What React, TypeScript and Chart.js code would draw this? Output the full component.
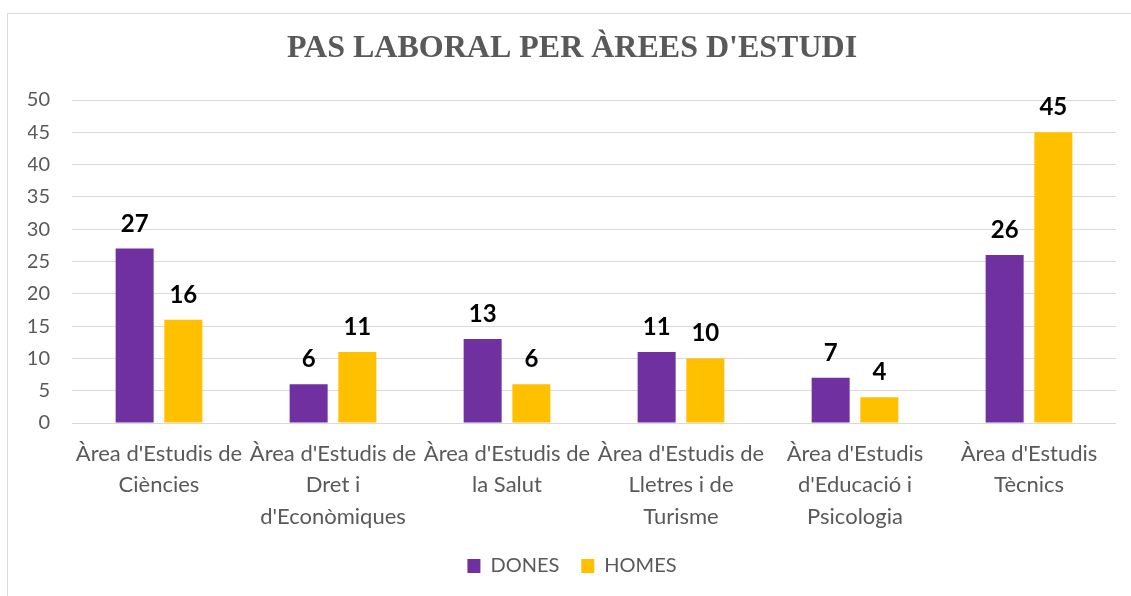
import React, { useEffect, useRef } from "react";
import { Chart, registerables } from "chart.js";

Chart.register(...registerables);

const TITLE = "PAS LABORAL PER ÀREES D'ESTUDI";
const CATEGORIES: string[][] = [
  ["Àrea d'Estudis de", "Ciències"],
  ["Àrea d'Estudis de", "Dret i", "d'Econòmiques"],
  ["Àrea d'Estudis de", "la Salut"],
  ["Àrea d'Estudis de", "Lletres i de", "Turisme"],
  ["Àrea d'Estudis", "d'Educació i", "Psicologia"],
  ["Àrea d'Estudis", "Tècnics"],
];
const SERIES_NAMES = ["DONES", "HOMES"];
const DONES = [27, 6, 13, 11, 7, 26];
const HOMES = [16, 11, 6, 10, 4, 45];
const Y_MIN = 0;
const Y_MAX = 50;
const Y_STEP = 5;

const FONT = "Lato, 'Open Sans', sans-serif";
const GREY = "#595959";

const framePlugin = {
  id: "frame",
  beforeDraw(chart: any) {
    const ctx = chart.ctx;
    ctx.save();
    ctx.fillStyle = "#ffffff";
    ctx.fillRect(0, 0, chart.width, chart.height);
    ctx.strokeStyle = "#d9d9d9";
    ctx.lineWidth = 1;
    ctx.strokeRect(7.5, 13.5, chart.width + 50, chart.height + 50);
    ctx.restore();
  },
};

const labelPlugin = {
  id: "valueLabels",
  afterDatasetsDraw(chart: any) {
    const ctx = chart.ctx;
    ctx.save();
    ctx.font = `bold 24px ${FONT}`;
    ctx.fillStyle = "#000000";
    ctx.textAlign = "center";
    ctx.textBaseline = "alphabetic";
    chart.data.datasets.forEach((ds: any, i: number) => {
      const meta = chart.getDatasetMeta(i);
      meta.data.forEach((bar: any, j: number) => {
        ctx.fillText(String(ds.data[j]), bar.x, bar.y - 17);
      });
    });
    ctx.restore();
  },
};

export default function App() {
  const ref = useRef<HTMLCanvasElement>(null);
  useEffect(() => {
    const chart = new Chart(ref.current!, {
      type: "bar",
      data: {
        labels: CATEGORIES,
        datasets: [
          { label: SERIES_NAMES[0], data: DONES, backgroundColor: "#7030A0" },
          { label: SERIES_NAMES[1], data: HOMES, backgroundColor: "#FFC000" },
        ],
      },
      options: {
        animation: false,
        responsive: false,
        maintainAspectRatio: false,
        layout: { padding: { left: 28, right: 15, top: 0, bottom: 10 } },
        datasets: {
          bar: { categoryPercentage: 0.56, barPercentage: 0.78 },
        },
        plugins: {
          title: {
            display: true,
            text: TITLE,
            color: GREY,
            font: { family: "'Liberation Serif', 'Times New Roman', serif", size: 32, weight: "bold" },
            padding: { top: 30, bottom: 31.6 },
          },
          legend: {
            position: "bottom",
            labels: {
              color: GREY,
              font: { family: FONT, size: 20 },
              boxWidth: 13,
              boxHeight: 14,
              padding: 22,
            },
          },
          tooltip: { enabled: false },
        },
        scales: {
          x: {
            grid: { display: false },
            border: { display: false },
            ticks: {
              color: GREY,
              font: { family: FONT, size: 22, lineHeight: 1.43 },
              maxRotation: 0,
              autoSkip: false,
              padding: 7,
            },
            afterFit(scale: any) {
              scale.height = 111;
            },
          },
          y: {
            min: Y_MIN,
            max: Y_MAX,
            ticks: {
              stepSize: Y_STEP,
              color: GREY,
              font: { family: FONT, size: 20 },
              padding: 22,
            },
            grid: { color: "#d9d9d9", drawTicks: false, lineWidth: 1 },
            border: { display: false },
            afterFit(scale: any) {
              scale.width = 44;
            },
          },
        },
      },
      plugins: [framePlugin, labelPlugin],
    });
    return () => chart.destroy();
  }, []);
  return (
    <div style={{ position: "fixed", left: 0, top: 0, width: 1131, height: 596 }}>
      <canvas ref={ref} width={1131} height={596} style={{ width: 1131, height: 596 }} />
    </div>
  );
}
